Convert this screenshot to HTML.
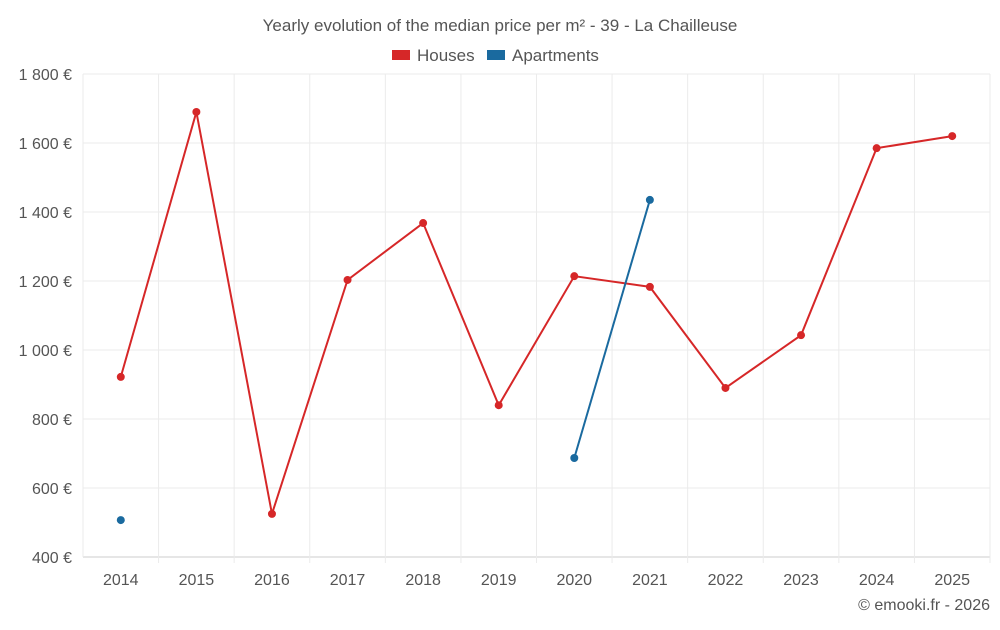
<!DOCTYPE html>
<html><head><meta charset="utf-8"><style>
body{margin:0;background:#fff;font-family:"Liberation Sans",sans-serif}
svg text{font-family:"Liberation Sans",sans-serif;fill:#555}
</style></head><body>
<svg width="1000" height="625">
<text x="500" y="31" text-anchor="middle" font-size="17">Yearly evolution of the median price per m² - 39 - La Chailleuse</text>
<g>
<g><rect x="392" y="50" width="18" height="10" fill="#d62728"/><text x="417" y="61" font-size="17">Houses</text></g>
<g><rect x="487" y="50" width="18" height="10" fill="#1a6a9f"/><text x="512" y="61" font-size="17">Apartments</text></g>
</g>
<g id="grid"></g><g id="axes"></g><g id="series"></g>
<text x="990" y="610" text-anchor="end" font-size="16">© emooki.fr - 2026</text>
</svg>
<script>
const years=[2014,2015,2016,2017,2018,2019,2020,2021,2022,2023,2024,2025];
const houses=[922,1690,525,1203,1368,840,1214,1183,890,1043,1585,1620];
const apartments=[507,null,null,null,null,null,687,1435,null,null,null,null];
const yTicks=[400,600,800,1000,1200,1400,1600,1800];
const yTickLabels=["400 €","600 €","800 €","1 000 €","1 200 €","1 400 €","1 600 €","1 800 €"];
const L=83,R=990,T=74,B=557,ymin=400,ymax=1800;
const bw=(R-L)/years.length;
const x=i=>L+bw*(i+0.5);
const y=v=>B-(v-ymin)/(ymax-ymin)*(B-T);
const NS="http://www.w3.org/2000/svg";
function mk(t,a,p){const e=document.createElementNS(NS,t);for(const k in a)e.setAttribute(k,a[k]);p.appendChild(e);return e;}
const g=document.getElementById('grid'),ax=document.getElementById('axes'),s=document.getElementById('series');
yTicks.forEach((v,i)=>{
 const l=mk('line',{x1:L,x2:R,y1:y(v),y2:y(v),stroke:v===ymin?'#ccc':'#ebebeb'},g);
 
 
 const t=mk('text',{x:72,y:y(v)+6,'text-anchor':'end','font-size':16},ax);t.textContent=yTickLabels[i];
 
 
});
for(let i=0;i<=years.length;i++){
 const l=mk('line',{x1:L+bw*i,x2:L+bw*i,y1:T,y2:B+(i?6:0),stroke:'#ebebeb'},g);
 
 
}
years.forEach((yr,i)=>{
 const t=mk('text',{x:x(i),y:585,'text-anchor':'middle','font-size':16},ax);t.textContent=yr;
 
 
});
function draw(data,color,name){
 let d='',pen=false;
 data.forEach((v,i)=>{if(v==null){pen=false;return;}d+=(pen?'L':'M')+x(i)+','+y(v);pen=true;});
 const p=mk('path',{d:d,fill:'none',stroke:color,'stroke-width':2},s);
 
 
 data.forEach((v,i)=>{if(v==null)return;
  const c=mk('circle',{cx:x(i),cy:y(v),r:4,fill:color},s);
  
  
 });
}
draw(houses,'#d62728','houses');
draw(apartments,'#1a6a9f','apartments');
</script>
</body></html>
